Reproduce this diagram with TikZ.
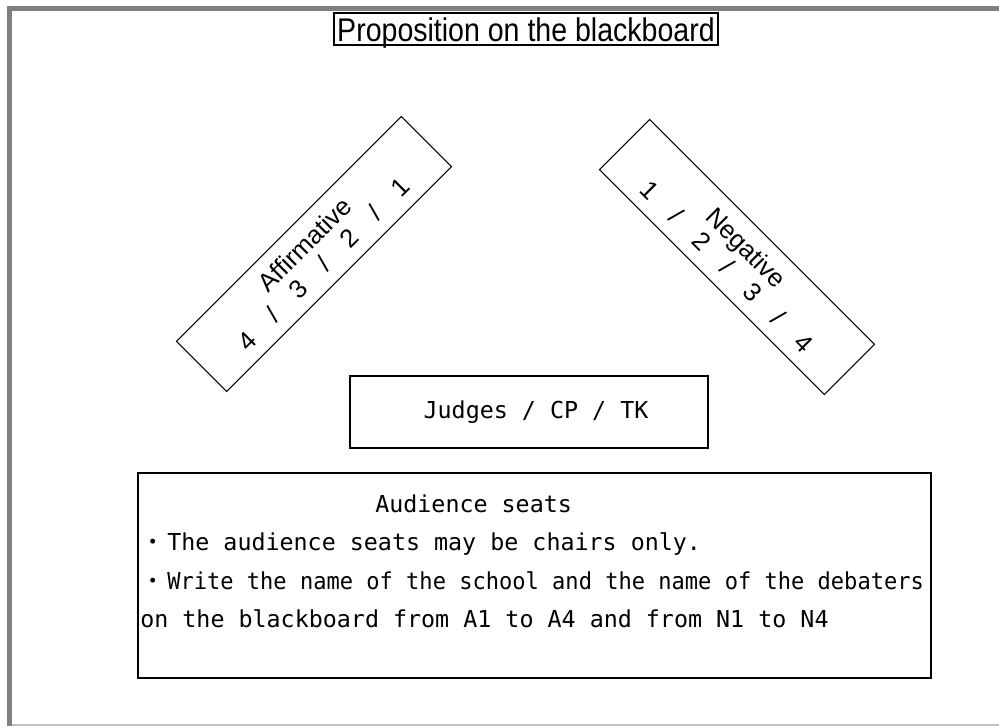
\documentclass[tikz,border=0pt]{standalone}
\usepackage{fontspec}
\usepackage{graphicx}
\setmainfont{Liberation Sans}
\newfontfamily\gothic{DejaVu Sans Mono}
\newfontfamily\jpdot{Noto Sans CJK JP}
\usepackage{tikz}
\usetikzlibrary{calc}

\begin{document}
\begin{tikzpicture}[x = 0.75pt, y = -0.75pt,
                board/.style = {draw = black, line width = 0.8pt, inner sep = 0pt},
                desk/.style = {board, minimum width = 238.5pt, minimum height = 53.25pt, align = center, font = \fontsize{19.2}{20.3}\selectfont},
                seatline/.style = {anchor = base west, inner sep = 0pt, font = \gothic\fontsize{17.5}{20}\selectfont}]
                \useasboundingbox (0,0) rectangle (999,726);
                \fill[black!50] (7,6) rectangle (999,11);
                \fill[black!50] (7,6) rectangle (12,726);
                \fill[black!25] (12,724) rectangle (999,726);
                \node[board, line width = 1pt, minimum width = 288pt, minimum height = 24pt, text height = 21pt, text depth = 3pt, font = \fontsize{21.4}{24}\selectfont] (title) at (526,29) {\scalebox{1}[1.15]{Proposition on the blackboard}};
                \node[desk, rotate = 45] (aff) at (314,254) {Affirmative\\4\quad/\quad3\quad/\quad2\quad/\quad1};
                \node[desk, rotate = -45] (neg) at (737,257) {Negative\\1\quad/\quad2\quad/\quad3\quad/\quad4};
                \node[board, minimum width = 268.5pt, minimum height = 54pt, font = \gothic\fontsize{17.5}{20}\selectfont] (judges) at (529,412) {\hspace*{10.5pt}Judges / CP / TK};
                \node[board, minimum width = 594.75pt, minimum height = 153.75pt] (audience) at (534.5,575.5) {};
                \node[seatline] (head) at (375,512) {Audience seats};
                \node[seatline] (chairs) at (139,550) {\makebox[21pt]{\jpdot ・}The audience seats may be chairs only.};
                \node[seatline] (names) at (139,589) {\makebox[21pt]{\jpdot ・}\scalebox{0.945}[1]{Write the name of the school and the name of the debaters}};
                \node[seatline] (board) at (140,627) {on the blackboard from A1 to A4 and from N1 to N4};
            \end{tikzpicture}
\end{document}
